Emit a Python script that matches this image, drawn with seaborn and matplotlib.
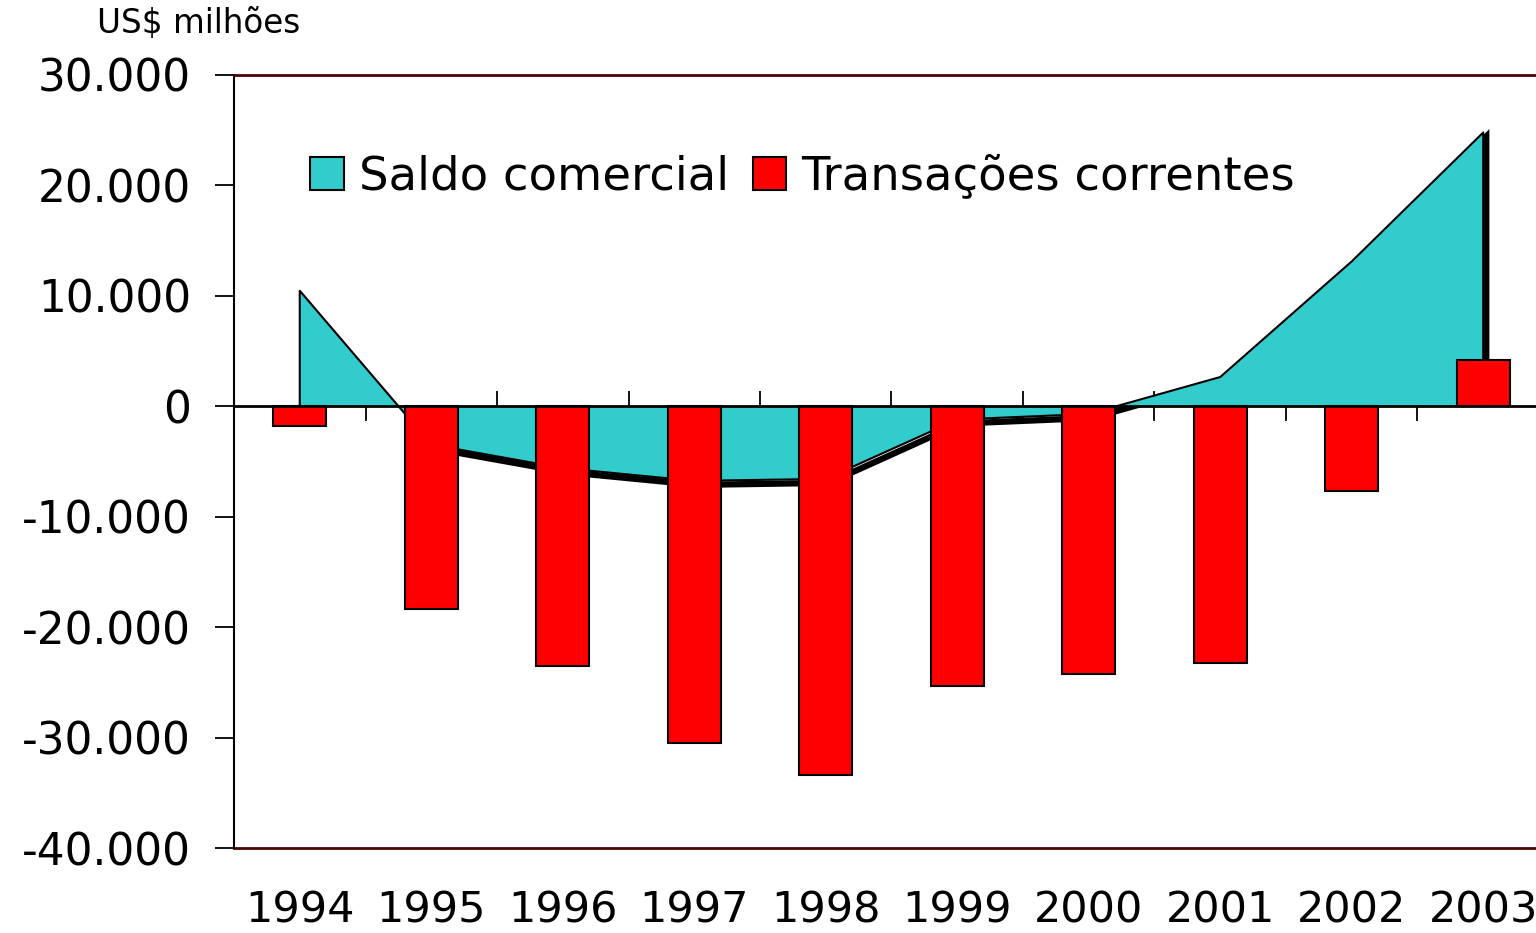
import matplotlib
matplotlib.use("Agg")
import matplotlib.pyplot as plt
import matplotlib.transforms as mtransforms
from matplotlib.patches import Patch
import seaborn as sns
import pandas as pd

# --- Data (US$ milhões) ---
anos = ["1994", "1995", "1996", "1997", "1998", "1999", "2000", "2001", "2002", "2003"]
saldo_comercial = [10466, -3466, -5599, -6753, -6575, -1199, -698, 2650, 13121, 24794]
transacoes_correntes = [-1811, -18384, -23502, -30452, -33416, -25335, -24225, -23215, -7637, 4177]
yticks = [-40000, -30000, -20000, -10000, 0, 10000, 20000, 30000]

TEAL = "#33cccc"
RED = "#ff0000"
MAROON = "#4a0505"

df = pd.DataFrame({"ano": anos, "tc": transacoes_correntes})

sns.set_style("white")
plt.rcParams["font.family"] = ["DejaVu Sans"]
plt.rcParams["text.color"] = "black"
plt.rcParams["xtick.color"] = "black"
plt.rcParams["ytick.color"] = "black"

fig = plt.figure(figsize=(15.36, 9.33), dpi=100)
ax = fig.add_axes([234 / 1536, 1 - 848 / 933, (1549 - 234) / 1536, (848 - 75) / 933])

xs = list(range(len(anos)))

# shadow under the area outline (offset down/right), ends under the last bar
shadow = mtransforms.offset_copy(ax.transData, fig=fig, x=3, y=-4, units="dots")
ax.plot(xs[1:] + [xs[-1]], saldo_comercial[1:] + [transacoes_correntes[-1]],
        color="black", lw=4.5, transform=shadow, zorder=0.5, solid_joinstyle="miter")

# area: saldo comercial
ax.fill_between(xs, saldo_comercial, 0, color=TEAL, lw=0, zorder=1)
ax.plot([xs[0]] + xs + [xs[-1]], [0] + saldo_comercial + [0], color="black", lw=1.5, zorder=1.2)

# bars: transações correntes
sns.barplot(data=df, x="ano", y="tc", color=RED, saturation=1, width=0.4,
            edgecolor="black", linewidth=1.5, ax=ax)
for p in ax.patches:
    p.set_zorder(3)

ax.set_xlim(-0.5, 9.5)
ax.set_ylim(-40000, 30000)
ax.set_xlabel("")
ax.set_ylabel("")

# category axis crossing at zero
ax.spines["bottom"].set_position(("data", 0))
ax.spines["bottom"].set_color("black")
ax.spines["bottom"].set_linewidth(2)
ax.spines["bottom"].set_zorder(4)
ax.set_xticks([i + 0.5 for i in range(9)])
ax.set_xticklabels([])
ax.tick_params(axis="x", bottom=True, direction="inout", length=21, width=1.3, color="black")

ax.spines["left"].set_color("black")
ax.spines["left"].set_linewidth(1.5)
ax.spines["top"].set_color(MAROON)
ax.spines["top"].set_linewidth(2)
ax.spines["right"].set_visible(False)

ax.set_yticks(yticks)
ax.set_yticklabels([f"{v:,}".replace(",", ".") for v in yticks], fontsize=31.5)
ax.tick_params(axis="y", left=True, direction="out", length=14, width=1.3, color="black", pad=17)

# year labels on the bottom border
sec = ax.secondary_xaxis(0)
sec.set_xticks(xs)
sec.set_xticklabels(anos, fontsize=31)
sec.tick_params(bottom=True, length=0, pad=30)
sec.spines["bottom"].set_color(MAROON)
sec.spines["bottom"].set_linewidth(2)

handles = [Patch(facecolor=TEAL, edgecolor="black", lw=1.5),
           Patch(facecolor=RED, edgecolor="black", lw=1.5)]
ax.legend(handles, ["Saldo comercial", "Transações correntes"], loc="center left",
          bbox_to_anchor=(0.058, 0.868), ncol=2, frameon=False, fontsize=33.5,
          handlelength=0.72, handleheight=0.72, handletextpad=0.33,
          columnspacing=0.5, borderpad=0, borderaxespad=0)

fig.text(97 / 1536, 1 - 23 / 933, "US$ milhões", fontsize=23.5, ha="left", va="center")

fig.savefig("out.png", dpi=100)
